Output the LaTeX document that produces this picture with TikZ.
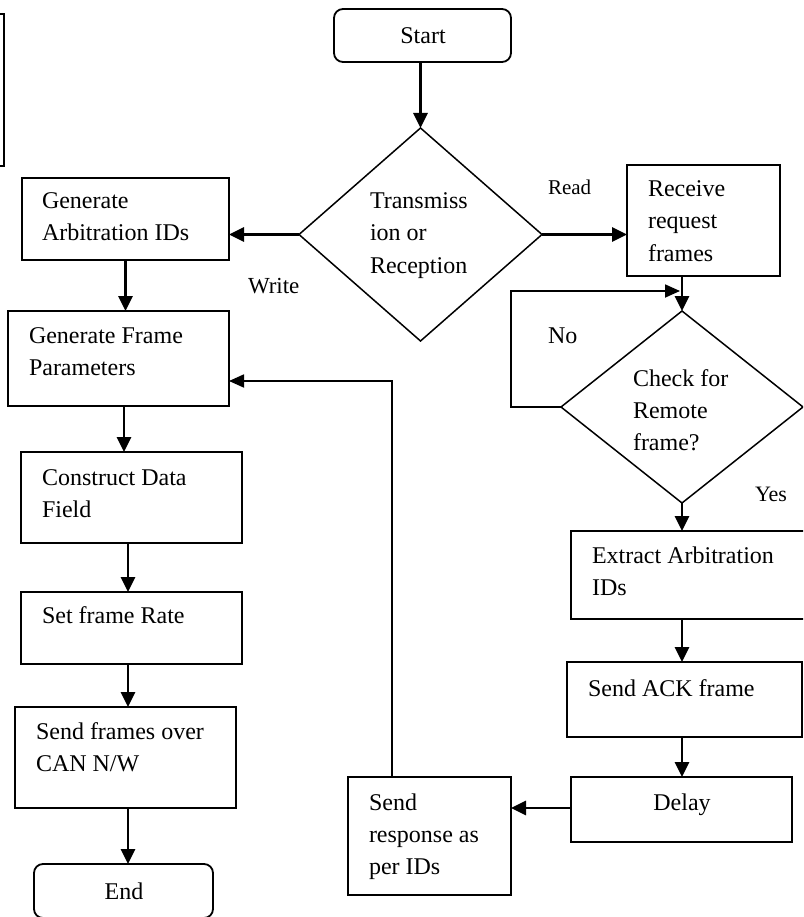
\documentclass[tikz,border=0pt]{standalone}
\usepackage{fontspec}
\setmainfont{Liberation Serif}
\usetikzlibrary{shapes.geometric,arrows.meta,calc}
\tikzset{
  box/.style={draw=black, line width=1.8pt, rectangle, inner sep=0pt, outer sep=0pt},
  term/.style={box, rounded corners=9pt},
  decision/.style={draw=black, line width=1.5pt, diamond, inner sep=0pt, outer sep=0pt},
  txt/.style={inner sep=0pt, outer sep=0pt, anchor=base west, font=\fontsize{24}{32}\selectfont},
  ctxt/.style={txt, anchor=base},
  lbl/.style={inner sep=0pt, outer sep=0pt, anchor=base west},
  arr/.style={line width=2.8pt, -{Triangle[length=15pt,width=14pt]}},
  thinarr/.style={line width=1.8pt, -{Triangle[length=15pt,width=13pt]}},
}
\newcommand{\lines}[1]{\begin{tabular}[t]{@{}l@{}}#1\end{tabular}}
\begin{document}
\begin{tikzpicture}[x=1pt,y=-1pt]
\useasboundingbox (0,0) rectangle (803,917);
\clip (0,0) rectangle (803,917);
\fill[white] (0,0) rectangle (803,917);

% partial box at the top left
\draw[line width=1.8pt] (-2,14) -- (4,14) -- (4,166) -- (-2,166);

% shapes
\node[term, minimum width=177pt, minimum height=53pt] (start) at (422.5,35.5) {};
\node[decision, minimum width=243pt, minimum height=213pt] (d1) at (420.5,234.5) {};
\node[box, minimum width=207pt, minimum height=82pt] (genarb) at (125.5,219) {};
\node[box, minimum width=153pt, minimum height=111pt] (recv) at (703.5,220.5) {};
\node[box, minimum width=221pt, minimum height=95pt] (genfp) at (118.5,358.5) {};
\node[box, minimum width=221pt, minimum height=91pt] (constr) at (131.5,497.5) {};
\node[box, minimum width=221pt, minimum height=72pt] (setrate) at (131.5,628) {};
\node[box, minimum width=221pt, minimum height=101pt] (sendfr) at (125.5,757.5) {};
\node[term, minimum width=179pt, minimum height=54pt] (endn) at (123.5,891) {};
\node[decision, minimum width=242pt, minimum height=192pt] (chk) at (682,407) {};
\node[box, minimum width=246pt, minimum height=88pt] (extract) at (694,575) {};
\node[box, minimum width=235pt, minimum height=75pt] (ack) at (684.5,699.5) {};
\node[box, minimum width=221pt, minimum height=65pt] (delay) at (681.5,809.5) {};
\node[box, minimum width=163pt, minimum height=118pt] (resp) at (429.5,836) {};

% texts
\node[ctxt] (tstart) at (423,44) {Start};
\node[txt] (td1) at (370,209) {\lines{Transmiss\\ion or\\Reception}};
\node[txt] (tgenarb) at (42,209) {\lines{Generate\\Arbitration IDs}};
\node[txt] (trecv) at (648,197) {\lines{Receive\\request\\frames}};
\node[txt] (tgenfp) at (29,343) {\lines{Generate Frame\\Parameters}};
\node[txt] (tconstr) at (42,485) {\lines{Construct Data\\Field}};
\node[txt] (tsetrate) at (42,623) {Set frame Rate};
\node[txt] (tsendfr) at (36,739) {\lines{Send frames over\\CAN N/W}};
\node[ctxt] (tend) at (124,899) {End};
\node[txt] (tchk) at (633,386) {\lines{Check for\\Remote\\frame?}};
\node[txt] (textract) at (592,563) {\lines{Extract Arbitration\\IDs}};
\node[txt] (tack) at (588,696) {Send ACK frame};
\node[ctxt] (tdelay) at (682,810) {Delay};
\node[txt] (tresp) at (369,810) {\lines{Send\\response as\\per IDs}};

% edge labels
\node[lbl, font=\fontsize{21}{25}\selectfont] (lread) at (548,195) {Read};
\node[lbl, font=\fontsize{23}{27}\selectfont] (lwrite) at (248,293) {Write};
\node[lbl, font=\fontsize{24}{28}\selectfont] (lno) at (548,343) {No};
\node[lbl, font=\fontsize{22}{26}\selectfont] (lyes) at (755,501) {Yes};

% connectors
\draw[arr] (start.south -| d1.north) -- (d1.north);
\draw[arr] (d1.west) -- (d1.west -| genarb.east);
\draw[arr] (d1.east) -- (d1.east -| recv.west);
\draw[arr] (genarb.south) -- (genarb.south |- genfp.north);
\draw[arr] ([xshift=5.5pt]genfp.south) -- ([xshift=5.5pt]genfp.south |- constr.north);
\draw[arr] ([xshift=-3.5pt]constr.south) -- ([xshift=-3.5pt]constr.south |- setrate.north);
\draw[arr] ([xshift=-3.5pt]setrate.south) -- ([xshift=-3.5pt]setrate.south |- sendfr.north);
\draw[arr] ([xshift=2.5pt]sendfr.south) -- ([xshift=2.5pt]sendfr.south |- endn.north);
\draw[arr] (chk.north |- recv.south) -- (chk.north);
\draw[thinarr] (chk.west) -- ++(-50,0) |- ([xshift=-2pt,yshift=20pt]chk.north);
\draw[arr] (chk.south) -- (chk.south |- extract.north);
\draw[arr] (chk.south |- extract.south) -- (chk.south |- ack.north);
\draw[arr] (chk.south |- ack.south) -- (chk.south |- delay.north);
\draw[arr] ([yshift=1.5pt]delay.west) -- ([yshift=1.5pt]delay.west -| resp.east);
\draw[thinarr] ([xshift=-37.5pt]resp.north) |- ([yshift=-22.5pt]genfp.east);
\end{tikzpicture}
\end{document}
